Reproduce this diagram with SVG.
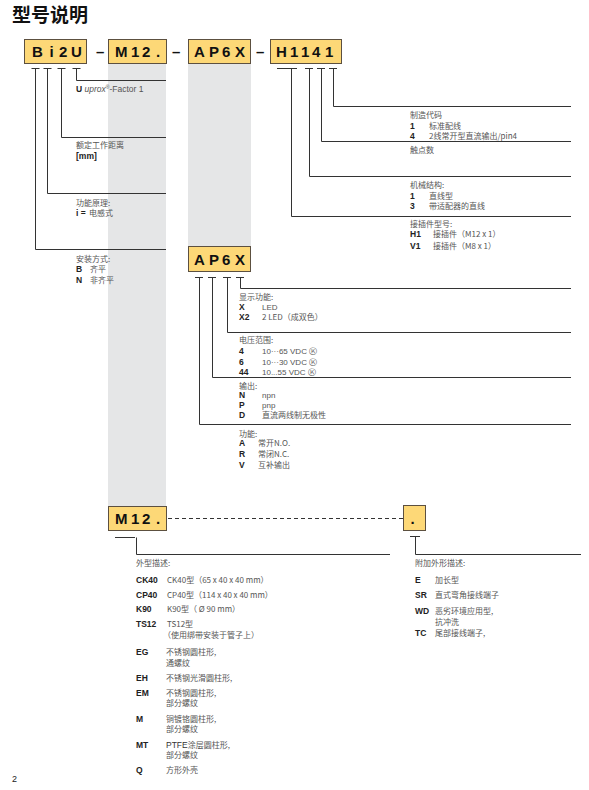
<svg xmlns="http://www.w3.org/2000/svg" width="589" height="790" viewBox="0 0 589 790">
<style>
.bg{fill:#ffffff}
.col{fill:#e5e6e7}
.box{fill:#fdd877;stroke:#5c5040;stroke-width:1}
.bt{font-family:"Liberation Sans",Arial,sans-serif;font-weight:bold;font-size:15px;fill:#111}
.ln{fill:none;stroke:#333;stroke-width:1}
.dash{fill:none;stroke:#333;stroke-width:1;stroke-dasharray:4 3}
.zh{font-family:"Noto Sans CJK SC","Liberation Sans",sans-serif;font-size:8px;fill:#555}
.k{font-family:"Liberation Sans",Arial,sans-serif;font-weight:bold;font-size:8.5px;fill:#222}
.v{font-family:"Noto Sans CJK SC","Liberation Sans",sans-serif;font-size:8px;fill:#555}
.l{font-family:"Liberation Sans",Arial,sans-serif;font-size:8px;fill:#555}
.t{font-family:"Noto Sans CJK SC",sans-serif;font-weight:bold;font-size:19px;fill:#111}
</style>
<rect class="bg" x="0" y="0" width="589" height="790"/>
<text class="t" x="12" y="22">型号说明</text>

<g id="columns">
<rect class="col" x="108" y="64" width="58" height="443"/>
<rect class="col" x="188" y="64" width="63" height="182"/>
</g>

<g id="connectors">
<path class="ln" d="M31.5 68.5H39.5M43.5 68.5H51.5M57.5 68.5H65.5M72.5 68.5H80.5"/>
<path class="ln" d="M76.5 68.5V80.5H166"/>
<path class="ln" d="M61.5 68.5V137.5H166"/>
<path class="ln" d="M47.5 68.5V193.5H166"/>
<path class="ln" d="M35.5 68.5V249.5H166"/>
<path class="ln" d="M277 68.5H297M305 68.5H313M317 68.5H325M329 68.5H337"/>
<path class="ln" d="M333.5 68.5V106.5H571"/>
<path class="ln" d="M321.5 68.5V141.5H571"/>
<path class="ln" d="M309.5 68.5V176.5H571"/>
<path class="ln" d="M291.5 68.5V216.5H571"/>
<path class="ln" d="M195 277.5H203M208 277.5H216M223 277.5H231M236 277.5H244"/>
<path class="ln" d="M240.5 277.5V288.5H571"/>
<path class="ln" d="M227.5 277.5V332.5H571"/>
<path class="ln" d="M212.5 277.5V377.5H571"/>
<path class="ln" d="M199.5 277.5V424.5H571"/>
<path class="dash" d="M168 518.5H403"/>
<path class="ln" d="M115 537.5H135M136.5 537.5V554.5H390"/>
<path class="ln" d="M410 536.5H420M415.5 536.5V554.5H581"/>
</g>

<g id="node-bi2u">
<rect class="box" x="24.5" y="39.5" width="62" height="24"/>
<text class="bt" x="32 49.5 59 71" y="57">Bi2U</text>
</g>
<text class="bt" x="96" y="57">–</text>
<g id="node-m12">
<rect class="box" x="108.5" y="39.5" width="58" height="24"/>
<text class="bt" x="115 131 142 156" y="57">M12.</text>
</g>
<text class="bt" x="172" y="57">–</text>
<g id="node-ap6x">
<rect class="box" x="188.5" y="39.5" width="62" height="24"/>
<text class="bt" x="194 209 222 235" y="57">AP6X</text>
</g>
<text class="bt" x="256" y="57">–</text>
<g id="node-h1141">
<rect class="box" x="270.5" y="39.5" width="71" height="24"/>
<text class="bt" x="276 290 301 312 325" y="57">H1141</text>
</g>

<g id="node-ap6x-detail">
<rect class="box" x="188.5" y="246.5" width="62" height="25"/>
<text class="bt" x="194 209 222 235" y="265">AP6X</text>
</g>
<g id="node-m12-detail">
<rect class="box" x="108.5" y="506.5" width="58" height="24"/>
<text class="bt" x="115 131 142 156" y="524">M12.</text>
</g>
<g id="node-dot">
<rect class="box" x="403.5" y="505.5" width="22" height="25"/>
<text class="bt" x="410.5" y="524">.</text>
</g>

<g id="labels-bi2u">
<text x="76" y="92" style="font-family:'Liberation Sans',Arial,sans-serif;font-size:8.5px;fill:#555"><tspan font-weight="bold" fill="#222">U</tspan> <tspan font-style="italic">uprox</tspan><tspan font-size="5" dy="-3">®</tspan><tspan dy="3">-Factor 1</tspan></text>
<text class="zh" x="76" y="148">额定工作距离</text>
<text class="k" x="76" y="159">[mm]</text>
<text class="zh" x="76" y="206">功能原理:</text>
<text class="k" x="76" y="216">i =</text><text class="v" x="89" y="216">电感式</text>
<text class="zh" x="76" y="262">安装方式:</text>
<text class="k" x="76" y="272">B</text><text class="v" x="90" y="272">齐平</text>
<text class="k" x="76" y="283">N</text><text class="v" x="90" y="283">非齐平</text>
</g>

<g id="labels-h1141">
<text class="zh" x="410" y="118">制造代码</text>
<text class="k" x="410" y="129">1</text><text class="v" x="429" y="129">标准配线</text>
<text class="k" x="410" y="139">4</text><text class="v" x="429" y="139">2线常开型直流输出/pin4</text>
<text class="zh" x="410" y="153">触点数</text>
<text class="zh" x="410" y="188">机械结构:</text>
<text class="k" x="410" y="199">1</text><text class="v" x="429" y="199">直线型</text>
<text class="k" x="410" y="209">3</text><text class="v" x="429" y="209">带适配器的直线</text>
<text class="zh" x="410" y="227">接插件型号:</text>
<text class="k" x="410" y="237">H1</text><text class="v" x="433" y="237">接插件（M12 x 1）</text>
<text class="k" x="410" y="249">V1</text><text class="v" x="433" y="249">接插件（M8 x 1）</text>
</g>

<g id="labels-ap6x">
<text class="zh" x="239" y="300">显示功能:</text>
<text class="k" x="239" y="310">X</text><text class="l" x="262" y="310">LED</text>
<text class="k" x="239" y="320">X2</text><text class="v" x="262" y="320">2 LED（成双色）</text>
<text class="zh" x="239" y="343">电压范围:</text>
<text class="k" x="239" y="354">4</text><text class="l" x="262" y="354">10···65 VDC Ⓚ</text>
<text class="k" x="239" y="365">6</text><text class="l" x="262" y="365">10···30 VDC Ⓚ</text>
<text class="k" x="239" y="375">44</text><text class="l" x="262" y="375">10...55 VDC Ⓚ</text>
<text class="zh" x="239" y="389">输出:</text>
<text class="k" x="239" y="398">N</text><text class="l" x="262" y="398">npn</text>
<text class="k" x="239" y="407.5">P</text><text class="l" x="262" y="407.5">pnp</text>
<text class="k" x="239" y="417.5">D</text><text class="v" x="262" y="417.5">直流两线制无极性</text>
<text class="zh" x="239" y="437">功能:</text>
<text class="k" x="239" y="446">A</text><text class="v" x="258" y="446">常开N.O.</text>
<text class="k" x="239" y="457">R</text><text class="v" x="258" y="457">常闭N.C.</text>
<text class="k" x="239" y="468">V</text><text class="v" x="258" y="468">互补输出</text>
</g>

<g id="labels-m12">
<text class="zh" x="136" y="566">外型描述:</text>
<text class="k" x="136" y="583">CK40</text><text class="v" x="167" y="583">CK40型（65 x 40 x 40 mm）</text>
<text class="k" x="136" y="598">CP40</text><text class="v" x="167" y="598">CP40型（114 x 40 x 40 mm）</text>
<text class="k" x="136" y="612">K90</text><text class="v" x="167" y="612">K90型（ Ø 90 mm）</text>
<text class="k" x="136" y="627">TS12</text><text class="v" x="167" y="627">TS12型</text>
<text class="v" x="163" y="638">（使用绑带安装于管子上）</text>
<text class="k" x="136" y="655">EG</text><text class="v" x="166" y="655">不锈钢圆柱形,</text>
<text class="v" x="166" y="666">通螺纹</text>
<text class="k" x="136" y="681">EH</text><text class="v" x="166" y="681">不锈钢光滑圆柱形,</text>
<text class="k" x="136" y="696">EM</text><text class="v" x="166" y="696">不锈钢圆柱形,</text>
<text class="v" x="166" y="706">部分螺纹</text>
<text class="k" x="136" y="722">M</text><text class="v" x="166" y="722">铜镀铬圆柱形,</text>
<text class="v" x="166" y="732">部分螺纹</text>
<text class="k" x="136" y="748">MT</text><text class="v" x="166" y="748"><tspan style="font-family:'Liberation Sans',Arial,sans-serif;font-size:8.5px;fill:#333">PTFE</tspan>涂层圆柱形,</text>
<text class="v" x="166" y="758">部分螺纹</text>
<text class="k" x="136" y="773">Q</text><text class="v" x="166" y="773">方形外壳</text>
</g>

<g id="labels-dot">
<text class="zh" x="415" y="566">附加外形描述:</text>
<text class="k" x="415" y="583">E</text><text class="v" x="435" y="583">加长型</text>
<text class="k" x="415" y="598">SR</text><text class="v" x="435" y="598">直式弯角接线端子</text>
<text class="k" x="415" y="614">WD</text><text class="v" x="435" y="614">恶劣环境应用型,</text>
<text class="v" x="435" y="624.5">抗冲洗</text>
<text class="k" x="415" y="636">TC</text><text class="v" x="435" y="636">尾部接线端子,</text>
</g>

<text x="12" y="782" style="font-family:'Liberation Sans',Arial,sans-serif;font-size:9px;fill:#222">2</text>
</svg>
